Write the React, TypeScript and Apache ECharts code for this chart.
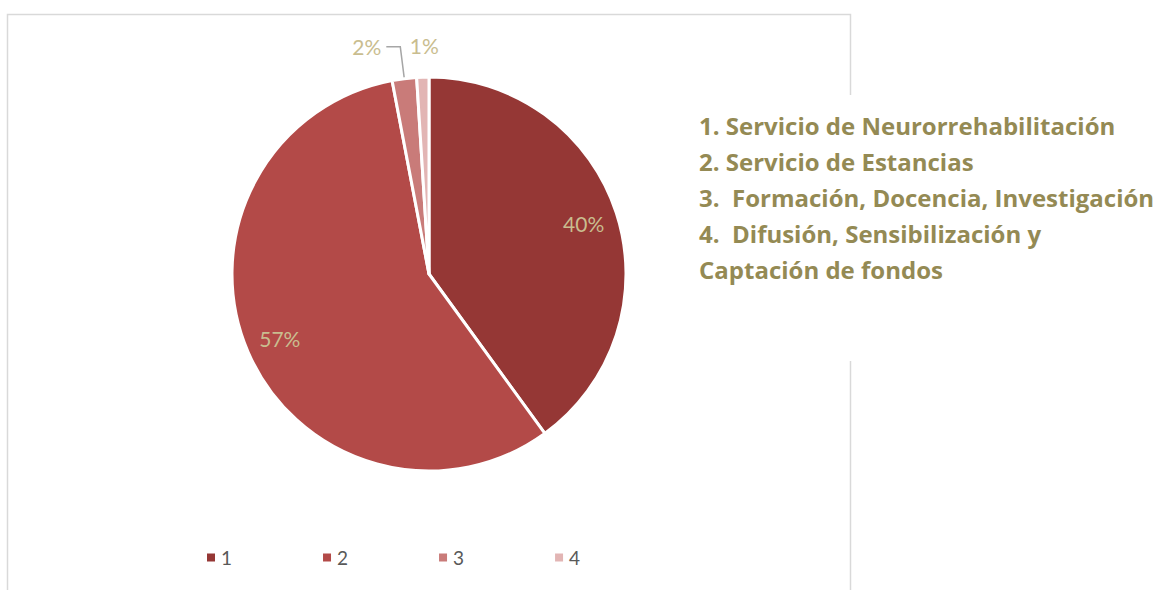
import React, { useEffect, useRef } from "react";
import * as echarts from "echarts";

const categories = ["1", "2", "3", "4"];
const values = [40, 57, 2, 1];
const sliceColors = ["#953735", "#B34A48", "#C97B79", "#E2B5B4"];
const descriptions = [
  "1. Servicio de Neurorrehabilitación",
  "2. Servicio de Estancias",
  "3.  Formación, Docencia, Investigación",
  "4.  Difusión, Sensibilización y",
  "Captación de fondos",
];

const FONT = "Lato, 'Open Sans', sans-serif";
const TITLE_FONT = "'Open Sans', Lato, sans-serif";
const LABEL_COLOR = "#C9BD8F";

export default function App() {
  const ref = useRef<HTMLDivElement>(null);
  useEffect(() => {
    document.body.style.margin = "0";
    if (!ref.current) return;
    const chart = echarts.init(ref.current, undefined, { renderer: "svg" });
    const cx = 429;
    const cy = 274;
    const R = 197;
    const data = categories.map((c, i) => ({
      name: c,
      value: values[i],
      itemStyle: { color: sliceColors[i] },
    }));
    chart.setOption({
      animation: false,
      backgroundColor: "#ffffff",
      textStyle: { fontFamily: FONT },
      legend: {
        data: categories,
        left: 200,
        top: 543,
        icon: "rect",
        itemWidth: 10,
        itemHeight: 10,
        itemGap: 89,
        textStyle: { color: "#595959", fontSize: 19, fontFamily: FONT },
      },
      graphic: [
        {
          type: "rect",
          shape: { x: 7.5, y: 14.5, width: 843, height: 600 },
          style: { fill: "none", stroke: "#D9D9D9", lineWidth: 1.5 },
          z: -10,
        },
        {
          type: "rect",
          shape: { x: 680, y: 95, width: 489, height: 266 },
          style: { fill: "#ffffff" },
          z: 10,
        },
        ...descriptions.map((t, i) => ({
          type: "text",
          x: 699,
          y: 125 + i * 36,
          z: 11,
          style: {
            text: t,
            fill: "#948A54",
            font: `bold 24px ${TITLE_FONT}`,
            textVerticalAlign: "middle",
          },
        })),
      ],
      series: [
        {
          type: "pie",
          center: [cx, cy],
          radius: [0, R],
          startAngle: 90,
          clockwise: true,
          avoidLabelOverlap: false,
          itemStyle: { borderColor: "#ffffff", borderWidth: 3 },
          label: {
            show: true,
            position: "outside",
            formatter: "{d}%",
            color: LABEL_COLOR,
            fontSize: 21,
            fontFamily: FONT,
          },
          labelLine: {
            show: true,
            length: 32,
            length2: 14,
            lineStyle: { color: "#A6A6A6", width: 1.5 },
          },
          labelLayout: (p: any) => {
            if (p.dataIndex === 3) {
              return { dx: 36, dy: 0 };
            }
            return {};
          },
          data: data.map((d, i) => ({
            ...d,
            label: { show: i >= 2 },
            labelLine: { show: i === 2 },
          })),
        },
        {
          type: "pie",
          center: [cx, cy],
          radius: [R * 0.62, R],
          startAngle: 90,
          clockwise: true,
          silent: true,
          itemStyle: { color: "rgba(0,0,0,0)" },
          label: {
            show: true,
            position: "inside",
            formatter: "{d}%",
            color: LABEL_COLOR,
            fontSize: 21,
            fontFamily: FONT,
          },
          labelLine: { show: false },
          data: data.map((d, i) => ({
            name: d.name,
            value: d.value,
            itemStyle: { color: "rgba(0,0,0,0)" },
            label: { show: i < 2 },
          })),
        },
      ],
    });
    return () => chart.dispose();
  }, []);
  return <div ref={ref} style={{ width: 1169, height: 590 }} />;
}
